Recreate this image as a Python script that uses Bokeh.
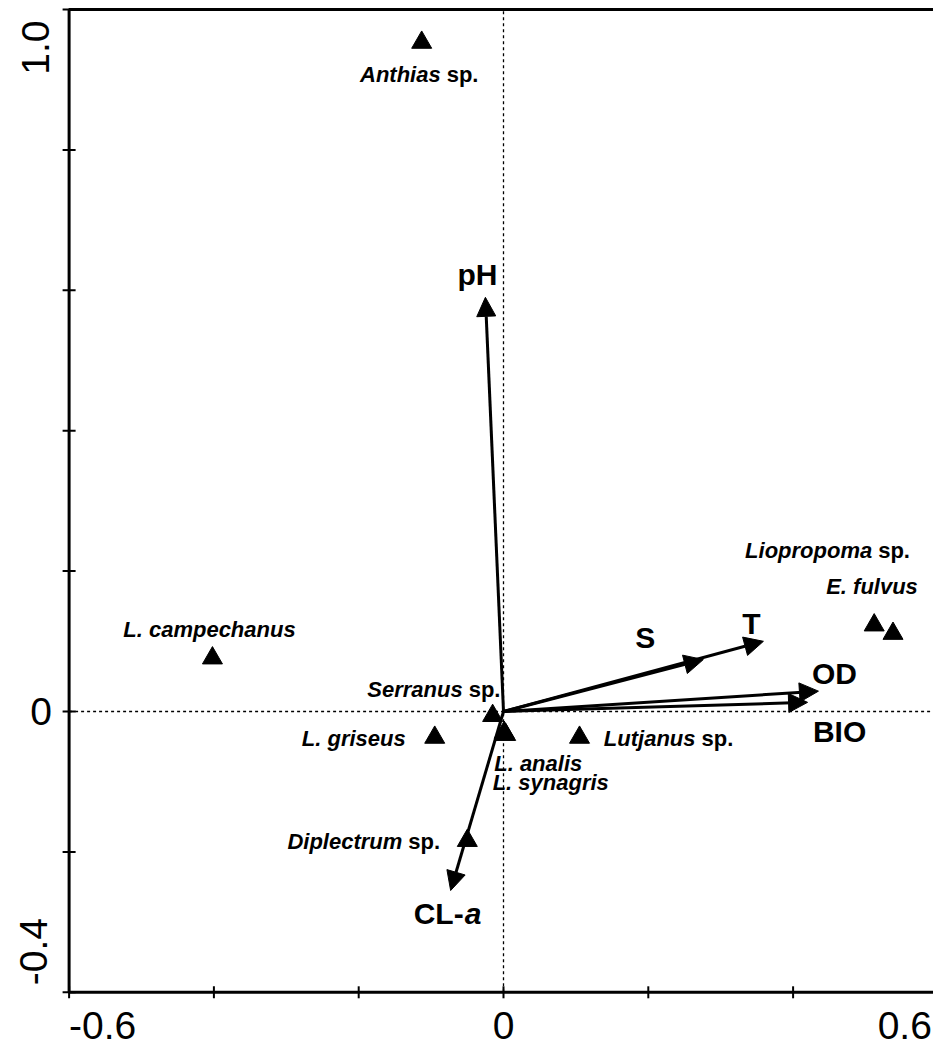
import math
from bokeh.plotting import figure
from bokeh.models import Range1d, Label, Arrow, NormalHead, ColumnDataSource
from bokeh.embed import file_html
from bokeh.resources import INLINE

# ---------------- data ----------------
species_italic = ["Anthias", "L. campechanus", "Serranus", "L. griseus", "L. analis",
                  "L. synagris", "Lutjanus", "Diplectrum", "Liopropoma", "E. fulvus"]
species_suffix = ["sp.", "", "sp.", "", "", "", "sp.", "sp.", "sp.", ""]
species_x = [-0.113, -0.402, -0.015, -0.095, 0.001, 0.003, 0.105, -0.050, 0.512, 0.538]
species_y = [0.953, 0.076, -0.006, -0.037, -0.030, -0.033, -0.037, -0.184, 0.123, 0.111]

env_plain = ["pH", "S", "T", "OD", "BIO", "CL-"]
env_italic = ["", "", "", "", "", "a"]
env_x = [-0.025, 0.276, 0.359, 0.435, 0.420, -0.073]
env_y = [0.590, 0.074, 0.100, 0.029, 0.013, -0.255]

x_ticks = [-0.6, -0.4, -0.2, 0.0, 0.2, 0.4, 0.6]
y_ticks = [-0.4, -0.2, 0.0, 0.2, 0.4, 0.6, 0.8, 1.0]
x_tick_labels = {-0.6: "-0.6", 0.0: "0", 0.6: "0.6"}
y_tick_labels = {-0.4: "-0.4", 0.0: "0", 1.0: "1.0"}

# axis box (data limits of the diagram)
AX0, AX1 = -0.6, 0.6
AY0, AY1 = -0.4, 1.0

# ---------------- styling ----------------
FONT = "Liberation Sans"
SP_PX, ENV_PX, TICK_PX = 22, 30, 39
W, H = 933, 1047
XSCALE, YSCALE = 724.0, 702.0      # px per unit
X_ORIGIN_PX, Y_ORIGIN_PX = 503, 711
BASE_CORR = 0.3                    # baseline correction (fraction of font size)

# label placement (screen px relative to the point; dy positive = up)
sp_place = [("split", 19, -39), ("center", -3, 22), ("split", -30, 20), ("right", -29, -8),
            ("left", -10, -38), ("left", -13, -54), ("split", 116, -8), ("split", -65, -7),
            ("split", -2, 68), ("center", -21, 40)]
env_place = [(-8, 14), (-58, 13), (-12, 9), (16, 9), (32, -38), (13, -32)]

x_range = Range1d(-X_ORIGIN_PX / XSCALE, (W - X_ORIGIN_PX) / XSCALE)
y_range = Range1d(-(H - Y_ORIGIN_PX) / YSCALE, Y_ORIGIN_PX / YSCALE)

p = figure(width=W, height=H, x_range=x_range, y_range=y_range,
           output_backend="svg", toolbar_location=None,
           x_axis_location=None, y_axis_location=None,
           min_border_left=0, min_border_right=0, min_border_top=0, min_border_bottom=0)
p.outline_line_color = None
p.grid.visible = False
p.background_fill_color = "white"
p.border_fill_color = "white"

# box
p.quad(left=[AX0], right=[AX1], bottom=[AY0], top=[AY1], fill_color=None,
       line_color="black", line_width=3)
# ticks
p.scatter([AX0] * len(y_ticks), y_ticks, marker="dash", size=13, line_color="black", line_width=2)
p.scatter(x_ticks, [AY0] * len(x_ticks), marker="dash", size=12, angle=math.pi / 2,
          line_color="black", line_width=2)
# zero lines
p.segment(x0=[0, AX0], y0=[AY0, 0], x1=[0, AX1], y1=[AY1, 0], line_color="black",
          line_width=1.3, line_dash="3 3")

# environmental arrows
src = ColumnDataSource(dict(x0=[0.0] * len(env_x), y0=[0.0] * len(env_y), x1=env_x, y1=env_y))
p.add_layout(Arrow(end=NormalHead(size=19, fill_color="black", line_color="black", line_width=1),
                   x_start="x0", y_start="y0", x_end="x1", y_end="y1", source=src,
                   line_width=3, line_color="black"))

# species points
p.scatter(species_x, species_y, marker="triangle", size=20, color="black")


def lab(x, y, text, dx, dy, align, style="bold", size=SP_PX, angle=0.0):
    c = BASE_CORR * size
    if angle:
        dx -= c
    else:
        dy += c
    p.add_layout(Label(x=x, y=y, x_offset=dx, y_offset=dy, text=text, text_align=align,
                       text_baseline="alphabetic", text_font=FONT, text_font_style=style,
                       text_font_size=f"{size}px", text_color="black", angle=angle))


for it, suf, x, y, (mode, dx, dy) in zip(species_italic, species_suffix, species_x, species_y, sp_place):
    if mode == "split":
        lab(x, y, it, dx, dy, "right", "bold italic")
        lab(x, y, suf, dx + 6, dy, "left", "bold")
    else:
        lab(x, y, it, dx, dy, mode, "bold italic")

for pl, itx, x, y, (dx, dy) in zip(env_plain, env_italic, env_x, env_y, env_place):
    if itx:
        lab(x, y, pl, dx, dy, "right", "bold", ENV_PX)
        lab(x, y, itx, dx + 1, dy, "left", "bold italic", ENV_PX)
    else:
        lab(x, y, pl, dx, dy, "center", "bold", ENV_PX)

# tick labels
for v, t in x_tick_labels.items():
    if v <= AX0:
        lab(v, AY0, t, 0, -45, "left", "normal", TICK_PX)
    elif v >= AX1:
        lab(v, AY0, t, -6, -45, "right", "normal", TICK_PX)
    else:
        lab(v, AY0, t, 0, -45, "center", "normal", TICK_PX)

for v, t in y_tick_labels.items():
    if v >= AY1:
        lab(AX0, v, t, -22, -11, "right", "normal", TICK_PX, angle=math.pi / 2)
    elif v <= AY0:
        lab(AX0, v, t, -24, 7, "left", "normal", TICK_PX, angle=math.pi / 2)
    else:
        lab(AX0, v, t, -28, -12, "center", "normal", TICK_PX)

open("out.html", "w").write(file_html(p, INLINE))
